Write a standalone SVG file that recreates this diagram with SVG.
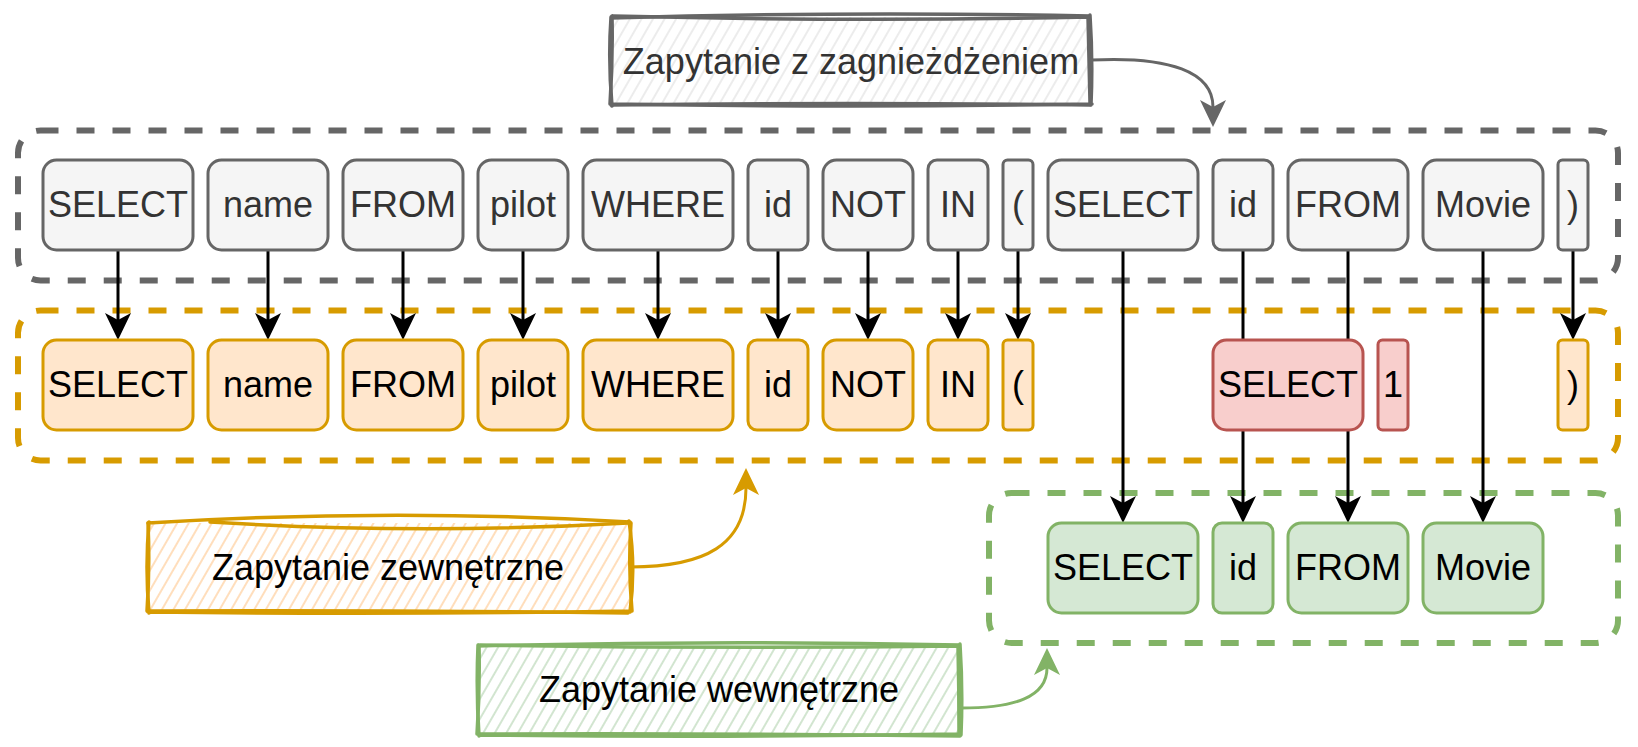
<svg xmlns="http://www.w3.org/2000/svg" width="1638" height="747" viewBox="0 0 1638 747">
<style>
text{font-family:"Liberation Sans",Arial,sans-serif;font-size:36px;text-anchor:middle}
.g rect{fill:#f5f5f5;stroke:#666666;stroke-width:3}
.g text{fill:#333333}
.o rect{fill:#ffe6cc;stroke:#d79b00;stroke-width:3}
.r rect{fill:#f8cecc;stroke:#b85450;stroke-width:3}
.gr rect{fill:#d5e8d4;stroke:#82b366;stroke-width:3}
.o text,.r text,.gr text{fill:#000000}
.cont{fill:none;stroke-width:6;stroke-dasharray:18 18}
.conn line{stroke:#000;stroke-width:3;marker-end:url(#ab)}
.rough{fill:none;stroke-width:3.5;stroke-linecap:round}
</style>
<defs>
<marker id="ab" markerUnits="userSpaceOnUse" markerWidth="30" markerHeight="30" refX="7" refY="13" orient="auto"><path d="M0,0 L27,13 L0,26 L7,13 Z" fill="#000"/></marker>
<marker id="agray" markerUnits="userSpaceOnUse" markerWidth="30" markerHeight="30" refX="7" refY="13" orient="auto"><path d="M0,0 L27,13 L0,26 L7,13 Z" fill="#666666"/></marker>
<marker id="aor" markerUnits="userSpaceOnUse" markerWidth="30" markerHeight="30" refX="7" refY="13" orient="auto"><path d="M0,0 L27,13 L0,26 L7,13 Z" fill="#d79b00"/></marker>
<marker id="agr" markerUnits="userSpaceOnUse" markerWidth="30" markerHeight="30" refX="7" refY="13" orient="auto"><path d="M0,0 L27,13 L0,26 L7,13 Z" fill="#82b366"/></marker>
<pattern id="hGray" patternUnits="userSpaceOnUse" width="10" height="10" patternTransform="rotate(30)"><line x1="5" y1="0" x2="5" y2="10" stroke="#e6e6e6" stroke-width="1.5"/></pattern>
<pattern id="hOr" patternUnits="userSpaceOnUse" width="10" height="10" patternTransform="rotate(30)"><line x1="5" y1="0" x2="5" y2="10" stroke="#ffd3a6" stroke-width="1.5"/></pattern>
<pattern id="hGr" patternUnits="userSpaceOnUse" width="10" height="10" patternTransform="rotate(30)"><line x1="5" y1="0" x2="5" y2="10" stroke="#c3dcc1" stroke-width="1.5"/></pattern>
</defs>

<g id="container-nested">
<rect class="cont" x="18" y="130.5" width="1600" height="150" rx="22.5" stroke="#666666"/>
</g>
<g id="container-outer">
<rect class="cont" x="18" y="310.5" width="1600" height="150" rx="22.5" stroke="#d79b00"/>
</g>
<g id="container-inner">
<rect class="cont" x="989" y="493" width="629" height="150" rx="22.5" stroke="#82b366"/>
</g>

<g id="connectors">
<g class="conn">
<line x1="118" y1="250" x2="118" y2="320"/>
<line x1="268" y1="250" x2="268" y2="320"/>
<line x1="403" y1="250" x2="403" y2="320"/>
<line x1="523" y1="250" x2="523" y2="320"/>
<line x1="658" y1="250" x2="658" y2="320"/>
<line x1="778" y1="250" x2="778" y2="320"/>
<line x1="868" y1="250" x2="868" y2="320"/>
<line x1="958" y1="250" x2="958" y2="320"/>
<line x1="1018" y1="250" x2="1018" y2="320"/>
<line x1="1573" y1="250" x2="1573" y2="320"/>
<line x1="1123" y1="250" x2="1123" y2="503"/>
<line x1="1243" y1="250" x2="1243" y2="503"/>
<line x1="1348" y1="250" x2="1348" y2="503"/>
<line x1="1483" y1="250" x2="1483" y2="503"/>
</g>
<path d="M1091,60 C1170,56 1213,72 1213,107" fill="none" stroke="#666666" stroke-width="3" marker-end="url(#agray)"/>
<path d="M630,567 C705,567 746,545 746,488" fill="none" stroke="#d79b00" stroke-width="3" marker-end="url(#aor)"/>
<path d="M961,708 C1015,708 1047,697 1047,668" fill="none" stroke="#82b366" stroke-width="3" marker-end="url(#agr)"/>
</g>

<g id="row-nested" class="g">
<g id="n-select1"><rect x="43" y="160" width="150" height="90" rx="13.5"/><text x="118" y="217">SELECT</text></g>
<g id="n-name"><rect x="208" y="160" width="120" height="90" rx="13.5"/><text x="268" y="217">name</text></g>
<g id="n-from1"><rect x="343" y="160" width="120" height="90" rx="13.5"/><text x="403" y="217">FROM</text></g>
<g id="n-pilot"><rect x="478" y="160" width="90" height="90" rx="13.5"/><text x="523" y="217">pilot</text></g>
<g id="n-where"><rect x="583" y="160" width="150" height="90" rx="13.5"/><text x="658" y="217">WHERE</text></g>
<g id="n-id1"><rect x="748" y="160" width="60" height="90" rx="9"/><text x="778" y="217">id</text></g>
<g id="n-not"><rect x="823" y="160" width="90" height="90" rx="13.5"/><text x="868" y="217">NOT</text></g>
<g id="n-in"><rect x="928" y="160" width="60" height="90" rx="9"/><text x="958" y="217">IN</text></g>
<g id="n-lpar"><rect x="1003" y="160" width="30" height="90" rx="4.5"/><text x="1018" y="217">(</text></g>
<g id="n-select2"><rect x="1048" y="160" width="150" height="90" rx="13.5"/><text x="1123" y="217">SELECT</text></g>
<g id="n-id2"><rect x="1213" y="160" width="60" height="90" rx="9"/><text x="1243" y="217">id</text></g>
<g id="n-from2"><rect x="1288" y="160" width="120" height="90" rx="13.5"/><text x="1348" y="217">FROM</text></g>
<g id="n-movie"><rect x="1423" y="160" width="120" height="90" rx="13.5"/><text x="1483" y="217">Movie</text></g>
<g id="n-rpar"><rect x="1558" y="160" width="30" height="90" rx="4.5"/><text x="1573" y="217">)</text></g>
</g>

<g id="row-outer" class="o">
<g id="o-select"><rect x="43" y="340" width="150" height="90" rx="13.5"/><text x="118" y="397">SELECT</text></g>
<g id="o-name"><rect x="208" y="340" width="120" height="90" rx="13.5"/><text x="268" y="397">name</text></g>
<g id="o-from"><rect x="343" y="340" width="120" height="90" rx="13.5"/><text x="403" y="397">FROM</text></g>
<g id="o-pilot"><rect x="478" y="340" width="90" height="90" rx="13.5"/><text x="523" y="397">pilot</text></g>
<g id="o-where"><rect x="583" y="340" width="150" height="90" rx="13.5"/><text x="658" y="397">WHERE</text></g>
<g id="o-id"><rect x="748" y="340" width="60" height="90" rx="9"/><text x="778" y="397">id</text></g>
<g id="o-not"><rect x="823" y="340" width="90" height="90" rx="13.5"/><text x="868" y="397">NOT</text></g>
<g id="o-in"><rect x="928" y="340" width="60" height="90" rx="9"/><text x="958" y="397">IN</text></g>
<g id="o-lpar"><rect x="1003" y="340" width="30" height="90" rx="4.5"/><text x="1018" y="397">(</text></g>
<g id="o-rpar"><rect x="1558" y="340" width="30" height="90" rx="4.5"/><text x="1573" y="397">)</text></g>
</g>

<g id="row-exists" class="r">
<g id="r-select"><rect x="1213" y="340" width="150" height="90" rx="13.5"/><text x="1288" y="397">SELECT</text></g>
<g id="r-one"><rect x="1378" y="340" width="30" height="90" rx="4.5"/><text x="1393" y="397">1</text></g>
</g>

<g id="row-inner" class="gr">
<g id="i-select"><rect x="1048" y="523" width="150" height="90" rx="13.5"/><text x="1123" y="580">SELECT</text></g>
<g id="i-id"><rect x="1213" y="523" width="60" height="90" rx="9"/><text x="1243" y="580">id</text></g>
<g id="i-from"><rect x="1288" y="523" width="120" height="90" rx="13.5"/><text x="1348" y="580">FROM</text></g>
<g id="i-movie"><rect x="1423" y="523" width="120" height="90" rx="13.5"/><text x="1483" y="580">Movie</text></g>
</g>

<g id="label-nested">
<rect x="612" y="17" width="478" height="87" fill="url(#hGray)"/>
<path class="rough" stroke="#666666" d="M611,18 Q850,11 1090,16 M1090,15 Q1093,60 1091,105 M1092,104 Q850,108 612,104 M612,106 Q608,60 611,17"/>
<path class="rough" stroke="#666666" d="M613,16 Q860,22 1089,17 M1088,17 Q1089,60 1090,103 M1090,105 Q850,102 611,105 M610,104 Q613,60 612,16"/>
<text x="851" y="74" fill="#333333">Zapytanie z zagnieżdżeniem</text>
</g>

<g id="label-outer">
<rect x="149" y="523" width="480" height="88" fill="url(#hOr)"/>
<path class="rough" stroke="#d79b00" d="M148,523 Q390,508 630,522 M629,521 Q636,567 630,612 M630,611 Q390,615 148,612 M149,613 Q145,567 149,522"/>
<path class="rough" stroke="#d79b00" d="M210,522 Q420,535 628,523 M631,523 Q628,567 632,611 M628,613 Q390,610 150,611 M147,611 Q150,567 148,523"/>
<text x="388" y="580" fill="#000">Zapytanie zewnętrzne</text>
</g>

<g id="label-inner">
<rect x="479" y="646" width="480" height="88" fill="url(#hGr)"/>
<path class="rough" stroke="#82b366" d="M478,646 Q720,640 960,645 M960,644 Q963,690 961,735 M961,734 Q720,738 479,735 M479,736 Q476,690 478,645"/>
<path class="rough" stroke="#82b366" d="M480,645 Q720,649 958,646 M958,646 Q959,690 959,734 M960,736 Q720,733 478,734 M477,734 Q480,690 479,645"/>
<text x="719" y="702" fill="#000">Zapytanie wewnętrzne</text>
</g>
</svg>
